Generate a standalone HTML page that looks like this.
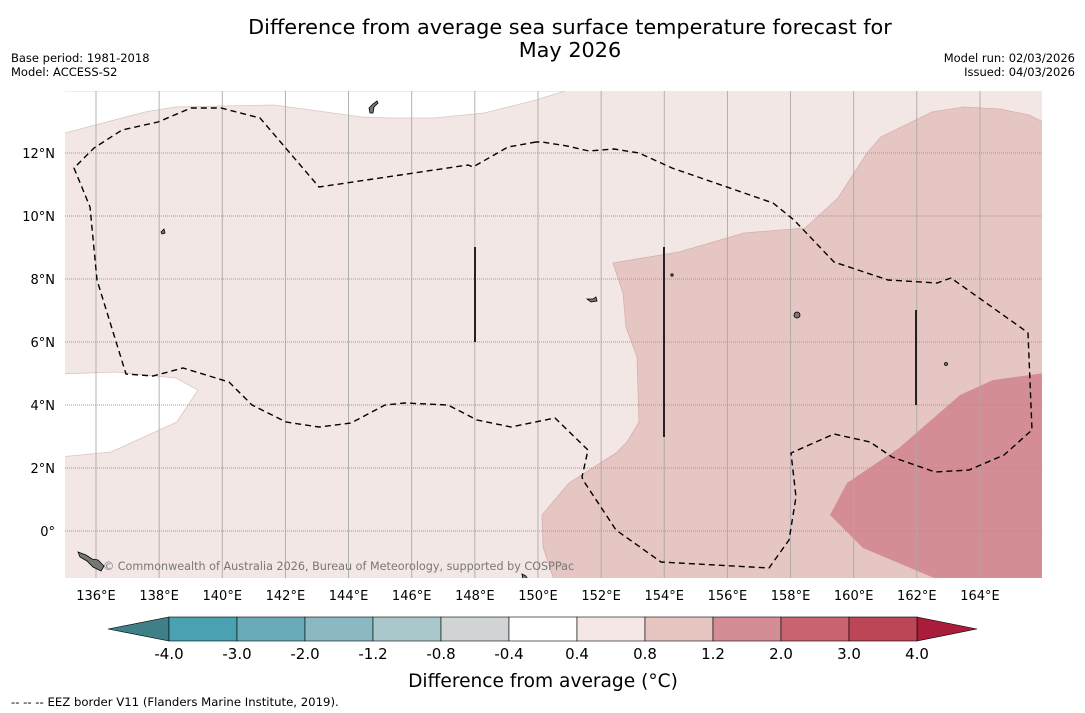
<!DOCTYPE html>
<html><head><meta charset="utf-8"><style>
body{margin:0;background:#fff;}
svg{display:block;font-family:"DejaVu Sans","Liberation Sans",sans-serif;}
</style></head><body>
<svg id="chart" width="1085" height="713" viewBox="0 0 1085 713" xmlns="http://www.w3.org/2000/svg">
<rect width="1085" height="713" fill="#fff"/>
<text x="570" y="34" font-size="20.8" text-anchor="middle">Difference from average sea surface temperature forecast for</text>
<text x="570" y="57" font-size="20.8" text-anchor="middle">May 2026</text>
<text x="11" y="62" font-size="11.5">Base period: 1981-2018</text>
<text x="11" y="76" font-size="11.5">Model: ACCESS-S2</text>
<text x="1075" y="62" font-size="11.5" text-anchor="end">Model run: 02/03/2026</text>
<text x="1075" y="76" font-size="11.5" text-anchor="end">Issued: 04/03/2026</text>
<defs><clipPath id="mapclip"><rect x="65" y="91" width="977" height="487"/></clipPath></defs>
<g id="map" clip-path="url(#mapclip)">
<rect x="65" y="91" width="977" height="487" fill="#f3e7e5"/>
<polygon fill="#fff" stroke="#d9c6c4" stroke-width="0.8" points="60,91 60,133 65,133 145,112 175,107 274,105 362,117 389,118 434,118 484,113 536,100 565,91"/>
<polygon fill="#fff" stroke="#d9c6c4" stroke-width="0.8" points="60,374 115,372 176,378 198,390 177,422 111,452 60,457"/>
<polygon fill="#e6c6c2" stroke="#d6b0ac" stroke-width="0.8" points="613,263 623,293 626,327 637,357 639,422 627,442 616,453 569,483 542,515 543,547 554,580 1045,580 1045,123 1029,115 1000,109 964,107 932,112 881,137 867,153 838,198 805,228 744,233 679,252"/>
<polygon fill="#d48d95" points="830,515 847,483 899,448 960,395 993,380 1045,373 1045,580 939,580 863,548"/>
<g id="grid"></g>
<polyline fill="none" stroke="#000" stroke-width="1.4" stroke-dasharray="6,4" points="536,142 508,147 473,167 468,165 319,187 260,118 221,108 191,108 158,122 122,130 94,148 74,168 90,207 97,280 126,374 153,376 183,368 229,382 252,405 286,422 319,427 351,423 385,405 405,403 448,405 477,420 511,427 555,418 588,450 582,477 583,480 616,530 661,562 769,568 789,540 796,497 791,453 834,434 870,442 892,457 935,472 969,470 1004,455 1032,430 1028,333 1020,327 951,278 937,283 888,280 834,262 794,220 773,203 672,168 639,153 614,149 589,151 567,146 542,142 536,142"/>
<line x1="475" y1="247" x2="475" y2="342" stroke="#222" stroke-width="2"/>
<line x1="664" y1="247" x2="664" y2="437" stroke="#222" stroke-width="2"/>
<line x1="916" y1="310" x2="916" y2="405" stroke="#222" stroke-width="2"/>
<g fill="#777" stroke="#000" stroke-width="0.8">
<path d="M369,108 l4,-4 l4,-3 l1,2 l-4,4 l-1,6 l-3,0 z"/>
<path d="M78,552 l8,3 l6,4 l6,1 l6,6 l-3,5 l-8,-4 l-6,-6 l-7,-4 z"/>
<circle cx="797" cy="315" r="3"/>
<path d="M522,574 l4,2 l2,4 l-5,0 z"/>
<path d="M161,232 l3,-3 l1,4 l-3,1 z"/>
<path d="M587,299 l6,0 l3,-2 l1,4 l-6,1 z"/>
<circle cx="946" cy="364" r="1.5"/>
<circle cx="672" cy="275" r="1.2"/>
</g>
<text x="103" y="570" font-size="11.2" fill="#777">© Commonwealth of Australia 2026, Bureau of Meteorology, supported by COSPPac</text>
</g>
<g id="ticks"></g>
<g id="cbar"></g>
<text x="543" y="687" font-size="18.6" text-anchor="middle">Difference from average (°C)</text>
<text x="11" y="706" font-size="11.7">--  --  -- EEZ border V11 (Flanders Marine Institute, 2019).</text>
</svg>
<script>
const lonTicks=[136,138,140,142,144,146,148,150,152,154,156,158,160,162,164];
const latTicks=[12,10,8,6,4,2,0];
const cbarBounds=[-4.0,-3.0,-2.0,-1.2,-0.8,-0.4,0.4,0.8,1.2,2.0,3.0,4.0];
const cbarColors=["#4aa1b1","#6aabba","#8ab8c3","#a9c8cc","#d1d4d4","#ffffff","#f5e7e5","#e6c5c1","#d48d95","#c8636f","#bd4656"];
const NS="http://www.w3.org/2000/svg";
const xLon=l=>96+(l-136)*31.57;
const yLat=l=>531-l*31.5;
function mk(tag,attrs,parent){const e=document.createElementNS(NS,tag);for(const k in attrs)e.setAttribute(k,attrs[k]);parent.appendChild(e);return e;}
const grid=document.getElementById('grid'),ticks=document.getElementById('ticks'),cbar=document.getElementById('cbar');
lonTicks.forEach(l=>{
 const ln=mk('line',{x1:xLon(l),x2:xLon(l),y1:91,y2:578,stroke:'#aaa','stroke-width':0.9},grid);
 
 
 const t=mk('text',{x:xLon(l),y:600,'font-size':13,'text-anchor':'middle'},ticks);
 t.textContent=l+'°E';
 
 
});
latTicks.forEach(l=>{
 const ln=mk('line',{x1:65,x2:1042,y1:yLat(l),y2:yLat(l),stroke:'#999','stroke-width':0.9,'stroke-dasharray':'1,1'},grid);
 
 
 const t=mk('text',{x:55,y:yLat(l)+5,'font-size':13,'text-anchor':'end'},ticks);
 t.textContent=l===0?'0°':l+'°N';
 
 
});
const cx0=169,cw=68,cy=617,ch=24;
const cbX=i=>cx0+i*cw;
const lt=mk('polygon',{points:`108,${cy+ch/2} ${cx0},${cy} ${cx0},${cy+ch}`,fill:'#3e7f88',stroke:'#000','stroke-width':0.6},cbar);


const last=cbX(cbarBounds.length-1);
const rt=mk('polygon',{points:`${last},${cy} ${last+60},${cy+ch/2} ${last},${cy+ch}`,fill:'#a91c3a',stroke:'#000','stroke-width':0.6},cbar);


cbarColors.forEach((c,i)=>{
 const r=mk('rect',{x:cbX(i),y:cy,width:cw,height:ch,fill:c,stroke:'#000','stroke-width':0.6},cbar);
 
 
});
cbarBounds.forEach((v,i)=>{
 const t=mk('text',{x:cbX(i),y:659,'font-size':15,'text-anchor':'middle'},cbar);
 t.textContent=v.toFixed(1);
 
 
});
</script>
</body></html>
